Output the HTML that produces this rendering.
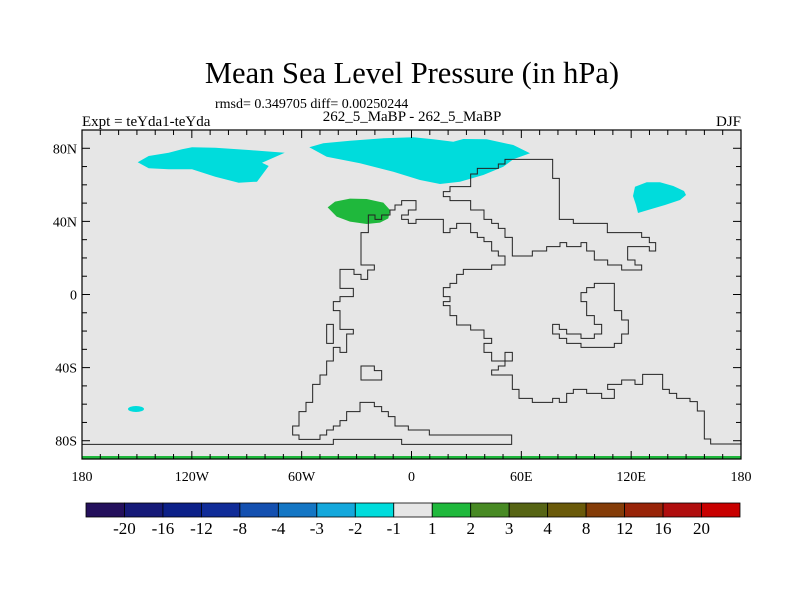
<!DOCTYPE html>
<html><head><meta charset="utf-8"><style>
html,body{margin:0;padding:0;background:#fff;}
svg{display:block;font-family:"Liberation Serif",serif;}
</style></head><body>
<svg id="chart" width="800" height="600" viewBox="0 0 800 600">
<text x="412" y="83" font-size="30.5" text-anchor="middle">Mean Sea Level Pressure (in hPa)</text>
<text x="215" y="108" font-size="14">rmsd= 0.349705 diff= 0.00250244</text>
<text x="412" y="121" font-size="15" text-anchor="middle">262_5_MaBP - 262_5_MaBP</text>
<text x="82" y="126" font-size="15">Expt = teYda1-teYda</text>
<text x="741" y="126" font-size="15" text-anchor="end">DJF</text>
<g id="plot">
<rect x="82" y="130" width="659" height="329" fill="#e6e6e6"/>
<polygon fill="#00dcdc" points="137.7,162.3 148.7,156 168.7,152.7 182,149.3 192,147.3 215.3,147.7 248.7,150 284.7,152.7 262,162.7 268.7,166 257,181.7 238.7,182.7 215.3,176.7 192,169.3 168.7,169.3 148.7,168.3"/>
<polygon fill="#00dcdc" points="309.3,147.3 323.3,143.3 350,140.7 383.3,138.3 413.3,137.3 433.3,139.3 453.3,141.7 463.3,139 486.7,139.3 513.3,145 530,153.3 513.3,159.3 503.3,166.7 483.3,175 460,181.7 440,184 420,180 393.3,171.7 360,163.3 326.7,156.7"/>
<polygon fill="#00dcdc" points="635,186.7 646.7,182.3 660,182.3 673.3,186 684,191 686,195 680,200 665,205 648,210 638,213 636,205 633,196"/>
<ellipse cx="136" cy="409" rx="8" ry="3" fill="#00dcdc"/>
<g transform="translate(280,150) scale(0.33333)">
<polygon fill="#1fb83c" points="143,172 165,155 210,146 260,147 310,158 330,180 325,205 300,218 260,222 210,215 170,200"/>
<g fill="none" stroke="#222" stroke-width="3">
<polygon points="680,28 818,28 818,85 838,85 838,208 880,208 880,220 982,220 982,248 1085,248 1085,262 1108,262 1108,278 1127,278 1127,303 1108,303 1108,290 1043,290 1043,330 1065,330 1065,345 1085,345 1085,360 1025,360 1025,345 983,345 983,330 943,330 943,303 920,303 920,278 903,278 903,290 860,290 860,278 840,278 840,290 800,290 800,303 757,303 757,318 697,318 697,262 675,262 675,235 655,235 655,220 635,220 635,208 612,208 612,180 572,180 572,152 510,152 510,140 490,140 490,125 510,125 510,110 572,110 572,72 592,72 592,55 655,55 655,42 675,42 675,28"/>
<polyline points="1385,882 1292,882 1292,867 1273,867 1273,783 1252,783 1252,755 1230,755 1230,745 1190,745 1190,730 1168,730 1168,718 1148,718 1148,673 1088,673 1088,703 1065,703 1065,690 1025,690 1025,703 983,703 983,718 1003,718 1003,745 965,745 965,730 920,730 920,718 880,718 880,730 860,730 860,757 838,757 838,745 818,745 818,757 757,757 757,745 717,745 717,718 697,718 697,675 635,675 635,660 655,660 655,648 675,648 675,607 697,607 697,633 635,633 635,607 612,607 612,580 635,580 635,565 612,565 612,540 572,540 572,525 530,525 530,497 510,497 510,467 490,467 490,455 510,455 510,440 490,440 490,413 510,413 510,400 530,400 530,373 550,373 550,358 635,358 635,345 675,345 675,318 655,318 655,303 635,303 635,275 612,275 612,262 592,262 592,248 572,248 572,220 530,220 530,235 510,235 510,248 490,248 490,208 408,208 408,220 385,220 385,208 365,208 365,195 385,195 385,180 408,180 408,152 365,152 365,165 345,165 345,180 330,180 330,195 305,195 305,208 285,208 285,195 265,195 265,248 243,248 243,345 283,345 283,360 263,360 263,388 243,388 243,373 222,373 222,358 180,358 180,415 220,415 220,440 180,440 180,455 160,455 160,482 180,482 180,538 220,538 220,552 200,552 200,607 180,607 180,592 160,592 160,633 140,633 140,675 120,675 120,703 98,703 98,757 78,757 78,785 57,785 57,828 38,828 38,855 57,855 57,868 120,868 120,855 140,855 140,840 160,840 160,828 180,828 180,812 200,812 200,785 240,785 240,757 283,757 283,770 305,770 305,785 325,785 325,800 345,800 345,828 385,828 385,840 448,840 448,855 695,855 695,883 365,883 365,868 160,868 160,883 -594,883"/>
<polygon points="140,523 160,523 160,580 140,580"/>
<polygon points="243,648 283,648 283,662 305,662 305,690 243,690"/>
<polygon points="943,400 1003,400 1003,482 1025,482 1025,510 1045,510 1045,552 1025,552 1025,580 1003,580 1003,592 903,592 903,580 860,580 860,565 838,565 838,552 818,552 818,523 838,523 838,538 860,538 860,552 903,552 903,565 943,565 943,552 965,552 965,523 943,523 943,497 920,497 920,455 903,455 903,428 920,428 920,413 943,413"/>
</g>
</g>
<rect x="82" y="456" width="659" height="3" fill="#1fb83c"/>
<g id="ticks" stroke="#000" stroke-width="1"></g>
<rect x="82" y="130" width="659" height="329" fill="none" stroke="#000" stroke-width="1.2"/>
</g>
<g id="labels" font-size="14"></g>
<g id="colorbar"></g>
</svg>
<script>
const lonTicks=[-180,-120,-60,0,60,120,180];
const lonLabels=["180","120W","60W","0","60E","120E","180"];
const latTicks=[80,40,0,-40,-80];
const latLabels=["80N","40N","0","40S","80S"];
const levelLabels=["-20","-16","-12","-8","-4","-3","-2","-1","1","2","3","4","8","12","16","20"];
const levelColors=["#24105c","#161a78","#0c2088","#102c98","#1450b0","#1476c4","#14a8dc","#00dcdc","#e6e6e6","#1fb83c","#488a24","#566414","#6a5a0a","#843c08","#982408","#b00e0e","#c80000"];
const NS="http://www.w3.org/2000/svg";
const X0=82,X1=741,Y0=130,Y1=459;
function xs(lon){return X0+(lon+180)/360*(X1-X0);}
function ys(lat){return Y0+(90-lat)/180*(Y1-Y0);}
function mk(tag,attrs,parent){const e=document.createElementNS(NS,tag);for(const k in attrs)e.setAttribute(k,attrs[k]);parent.appendChild(e);return e;}
const tg=document.getElementById('ticks');
for(let lon=-180;lon<=180;lon+=10){
  const major=lonTicks.includes(lon);const L=major?8:5;const x=xs(lon);
  const a=mk('line',{x1:x,x2:x,y1:Y1,y2:Y1-L},tg);
  
  
  const b=mk('line',{x1:x,x2:x,y1:Y0,y2:Y0+L},tg);
  
  
}
for(let lat=-90;lat<=90;lat+=10){
  const major=latTicks.includes(lat);const L=major?8:5;const y=ys(lat);
  const a=mk('line',{x1:X0,x2:X0+L,y1:y,y2:y},tg);
  
  
  const b=mk('line',{x1:X1,x2:X1-L,y1:y,y2:y},tg);
  
  
}
const lg=document.getElementById('labels');
lonTicks.forEach((lon,i)=>{
  const t=mk('text',{x:xs(lon),y:481,'text-anchor':'middle'},lg);t.textContent=lonLabels[i];
  
  
});
latTicks.forEach((lat,i)=>{
  const t=mk('text',{x:77,y:ys(lat)+5,'text-anchor':'end'},lg);t.textContent=latLabels[i];
  
  
});
const cb=document.getElementById('colorbar');
const CX0=86,CX1=740,CY=503,CH=14,bw=(CX1-CX0)/levelColors.length;
levelColors.forEach((c,i)=>{
  const r=mk('rect',{x:CX0+i*bw,y:CY,width:bw,height:CH,fill:c,stroke:'#000','stroke-width':0.8},cb);
  
  
});
levelLabels.forEach((s,i)=>{
  const t=mk('text',{x:CX0+(i+1)*bw,y:534,'text-anchor':'middle','font-size':17},cb);t.textContent=s;
  
  
});
</script>
</body></html>
